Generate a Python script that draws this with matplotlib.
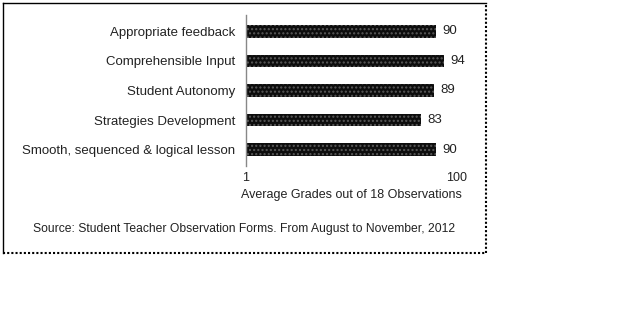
import numpy as np
import matplotlib.pyplot as plt
from matplotlib.lines import Line2D

plt.rcParams['font.family'] = ['Liberation Sans', 'DejaVu Sans']

categories = ['Appropriate feedback', 'Comprehensible Input', 'Student Autonomy',
              'Strategies Development', 'Smooth, sequenced & logical lesson']
grades = [90, 94, 89, 83, 90]

W, H = 618, 331
fig = plt.figure(figsize=(W / 100, H / 100), dpi=100)
ax = fig.add_axes([246 / W, 1 - 166 / H, (457 - 246) / W, (166 - 15) / H])

y = np.arange(len(categories))
bars = ax.barh(y, [g - 1 for g in grades], left=1, height=0.42,
               color='#0d0d0d', edgecolor='#5a5a5a', linewidth=0, hatch='....')
for yi, g in zip(y, grades):
    ax.text(g + 3, yi, str(g), va='center', ha='left', fontsize=9.5, color='#222222')

ax.set_xlim(1, 100)
ax.set_ylim(len(categories) - 0.45, -0.55)
ax.set_yticks(y)
ax.set_yticklabels(categories, fontsize=9.5, color='#222222')
ax.set_xticks([1, 100])
ax.set_xticklabels(['1', '100'], fontsize=9, color='#222222')
ax.tick_params(length=0, pad=8)
ax.tick_params(axis='x', pad=4)
for s in ['top', 'right', 'bottom']:
    ax.spines[s].set_visible(False)
ax.spines['left'].set_color('#888888')
ax.spines['left'].set_linewidth(1)
ax.set_xlabel('Average Grades out of 18 Observations', fontsize=9, color='#222222', labelpad=4)

fig.text(244 / W, 1 - 229 / H,
         'Source: Student Teacher Observation Forms. From August to November, 2012',
         ha='center', va='center', fontsize=8.7, color='#222222')

# frame around the chart
x0, x1 = 2.5 / W, 486 / W
y0, y1 = 1 - 253 / H, 1 - 2.5 / H
fig.add_artist(Line2D([x0, x1], [y1, y1], transform=fig.transFigure, color='black', lw=1))
fig.add_artist(Line2D([x0, x0], [y0, y1], transform=fig.transFigure, color='black', lw=1))
fig.add_artist(Line2D([x1, x1], [y0, y1], transform=fig.transFigure, color='black', lw=1.5, ls=(0, (1, 1))))
fig.add_artist(Line2D([x0, x1], [y0, y0], transform=fig.transFigure, color='black', lw=1.5, ls=(0, (1, 1))))

fig.savefig('out.png', dpi=100)
